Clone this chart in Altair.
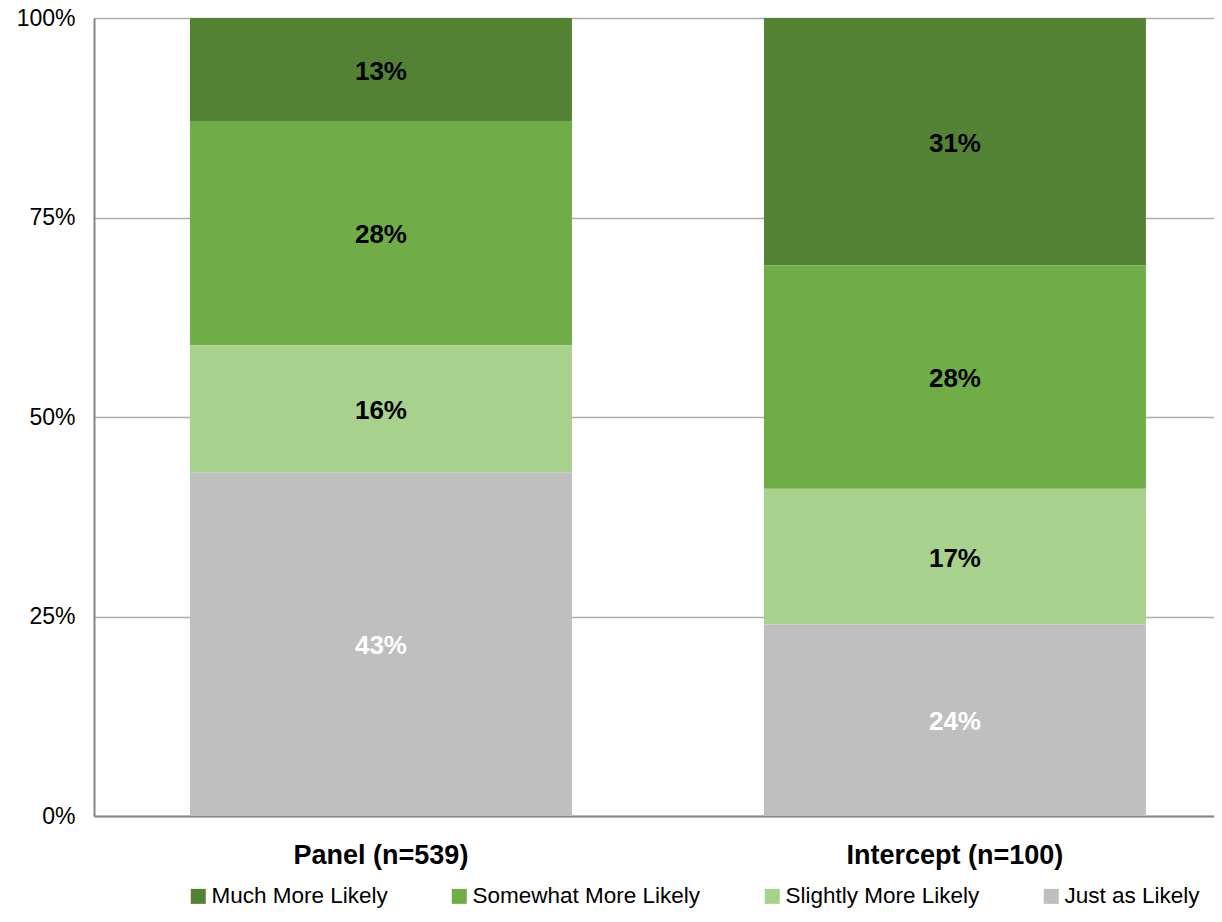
import altair as alt
import pandas as pd

groups = ["Panel (n=539)", "Intercept (n=100)"]
categories = ["Much More Likely", "Somewhat More Likely", "Slightly More Likely", "Just as Likely"]
panel_values = [13, 28, 16, 43]
intercept_values = [31, 28, 17, 24]
colors = ["#548235", "#70AD47", "#A9D18E", "#BFBFBF"]
label_colors = ["black", "black", "black", "white"]
y_ticks = [0, 0.25, 0.5, 0.75, 1.0]

rows = []
for g, vals in zip(groups, [panel_values, intercept_values]):
    for i, (c, v) in enumerate(zip(categories, vals)):
        rows.append({
            "group": g,
            "category": c,
            "value": v / 100,
            "stack_order": len(categories) - 1 - i,
            "label": f"{v}%",
            "label_color": label_colors[i],
        })
df = pd.DataFrame(rows)

FONT = "Liberation Sans"

base = alt.Chart(df).transform_stack(
    stack="value",
    groupby=["group"],
    as_=["y0", "y1"],
    sort=[alt.SortField("stack_order", order="ascending")],
).transform_calculate(mid="(datum.y0 + datum.y1) / 2")

x_enc = alt.X(
    "group:N",
    sort=groups,
    scale=alt.Scale(paddingInner=0.3345, paddingOuter=0.1429, align=0.585),
    axis=alt.Axis(
        title=None, labelAngle=0, labelFontSize=27, labelFontWeight="bold",
        labelPadding=26, ticks=False, domainColor="#868686", domainWidth=2,
        labelColor="black", labelFont=FONT, labelLimit=0,
    ),
)

y_scale = alt.Scale(domain=[0, 1], nice=False)

bars = base.mark_bar().encode(
    x=x_enc,
    y=alt.Y(
        "y0:Q",
        scale=y_scale,
        axis=alt.Axis(
            values=y_ticks, format="%", title=None, labelFontSize=23,
            labelPadding=19, ticks=False, gridColor="#ADADAD", gridWidth=1.5,
            domainColor="#868686", domainWidth=2, labelColor="black",
            labelFont=FONT,
        ),
    ),
    y2="y1:Q",
    color=alt.Color(
        "category:N",
        scale=alt.Scale(domain=categories, range=colors),
        legend=alt.Legend(
            title=None, orient="none", legendX=93, legendY=867,
            direction="horizontal", symbolType="square", symbolSize=225,
            labelFontSize=22.5, labelOffset=2, columnPadding=60,
            symbolStrokeWidth=0, padding=0, labelFont=FONT,
            labelColor="black", labelLimit=0,
        ),
    ),
)

labels = base.mark_text(fontSize=26, fontWeight="bold", baseline="middle", font=FONT, dy=2).encode(
    x=alt.X("group:N", sort=groups),
    y=alt.Y("mid:Q", scale=y_scale),
    text="label:N",
    fill=alt.Fill("label_color:N", scale=None),
)

chart = alt.layer(bars, labels).properties(
    width=1120,
    height=798,
    autosize=alt.AutoSizeParams(type="none"),
    padding={"left": 86, "top": 10, "right": 0, "bottom": 94},
).configure_view(stroke=None).configure(font=FONT)

chart.save("out.html", embed_options={"renderer": "svg", "actions": False})
